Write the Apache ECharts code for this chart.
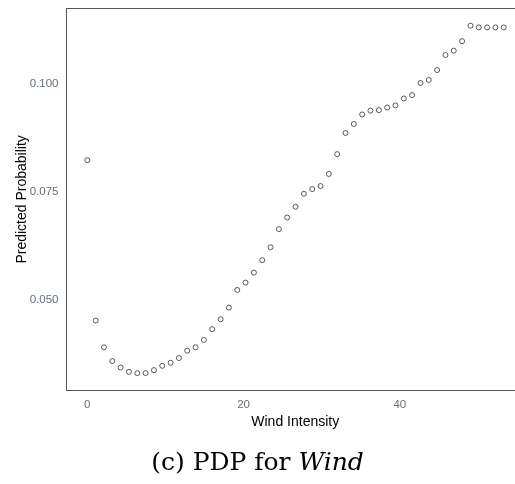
<!DOCTYPE html>
<html>
<head>
<meta charset="utf-8">
<script src="https://cdn.jsdelivr.net/npm/echarts@6/dist/echarts.min.js"></script>
<style>
html,body{margin:0;padding:0;background:#fff;}
#chart{width:515px;height:484px;}
</style>
</head>
<body>
<div id="chart"></div>
<script>
// Wind intensity grid (x) and predicted probability (y)
var windValues = [0, 1.07, 2.13, 3.2, 4.26, 5.33, 6.4, 7.46, 8.53, 9.59, 10.66, 11.73, 12.79, 13.86, 14.92, 15.99, 17.06, 18.12, 19.19, 20.25, 21.32, 22.39, 23.45, 24.52, 25.58, 26.65, 27.72, 28.78, 29.85, 30.91, 31.98, 33.05, 34.11, 35.18, 36.24, 37.31, 38.38, 39.44, 40.51, 41.57, 42.64, 43.71, 44.77, 45.84, 46.9, 47.97, 49.04, 50.1, 51.17, 52.23, 53.3];
var probValues = [0.0823, 0.0451, 0.0389, 0.0357, 0.0342, 0.0332, 0.0329, 0.0329, 0.0336, 0.0346, 0.0353, 0.0364, 0.0381, 0.0389, 0.0406, 0.0431, 0.0454, 0.0481, 0.0522, 0.0539, 0.0562, 0.0591, 0.0621, 0.0663, 0.0690, 0.0715, 0.0745, 0.0756, 0.0763, 0.0791, 0.0837, 0.0886, 0.0907, 0.0929, 0.0938, 0.0939, 0.0945, 0.0950, 0.0966, 0.0974, 0.1002, 0.1009, 0.1032, 0.1067, 0.1077, 0.1099, 0.1135, 0.1131, 0.1131, 0.1131, 0.1131];
var xTicks = [0, 20, 40];
var yTicks = [0.050, 0.075, 0.100];
var xTitle = 'Wind Intensity';
var yTitle = 'Predicted Probability';
var captionPrefix = '(c) PDP for ';
var captionItalic = 'Wind';

var points = windValues.map(function (x, i) { return [x, probValues[i]]; });

var chart = echarts.init(document.getElementById('chart'), null, {renderer: 'canvas'});
var sans = 'Liberation Sans, Arial, sans-serif';
var frame = {show: true, onZero: false, lineStyle: {color: '#555', width: 1}};
chart.setOption({
  animation: false,
  backgroundColor: '#fff',
  grid: {left: 66.5, top: 8.3, right: 0, bottom: 93.5, containLabel: false, outerBoundsMode: 'none'},
  xAxis: [{
    type: 'value',
    position: 'bottom',
    min: -2.665, max: 54.74,
    axisLine: frame,
    axisTick: {show: false},
    splitLine: {show: false},
    axisLabel: {
      customValues: xTicks,
      color: '#6e6e6e', fontFamily: sans, fontSize: 11.5, margin: 8
    },
    name: xTitle, nameLocation: 'middle', nameGap: 24.5, nameMoveOverlap: false,
    nameTextStyle: {color: '#000', fontFamily: sans, fontSize: 14, padding: [0, 0, 0, 9]}
  }, {
    type: 'value',
    position: 'top',
    min: -2.665, max: 54.74,
    axisLine: frame,
    axisTick: {show: false},
    axisLabel: {show: false},
    splitLine: {show: false}
  }],
  yAxis: {
    type: 'value',
    position: 'left',
    min: 0.02887, max: 0.11753,
    axisLine: frame,
    axisTick: {show: false},
    splitLine: {show: false},
    axisLabel: {
      customValues: yTicks,
      formatter: function (v) { return v.toFixed(3); },
      color: '#62707f', fontFamily: sans, fontSize: 11.5, margin: 8
    },
    name: yTitle, nameLocation: 'middle', nameGap: 37, nameRotate: 90, nameMoveOverlap: false,
    nameTextStyle: {color: '#000', fontFamily: sans, fontSize: 14}
  },
  series: [{
    type: 'scatter',
    xAxisIndex: 0,
    data: points,
    symbol: 'circle',
    symbolSize: 5,
    itemStyle: {color: '#fff', borderColor: '#333', borderWidth: 1}
  }],
  graphic: [{
    type: 'text',
    left: 'center',
    top: 451,
    style: {
      text: '{a|' + captionPrefix + '}{b|' + captionItalic + '}',
      rich: {
        a: {fontFamily: 'DejaVu Serif, serif', fontSize: 25, fill: '#000'},
        b: {fontFamily: 'DejaVu Serif, serif', fontSize: 25, fontStyle: 'italic', fill: '#000'}
      }
    }
  }]
});
</script>
</body>
</html>
